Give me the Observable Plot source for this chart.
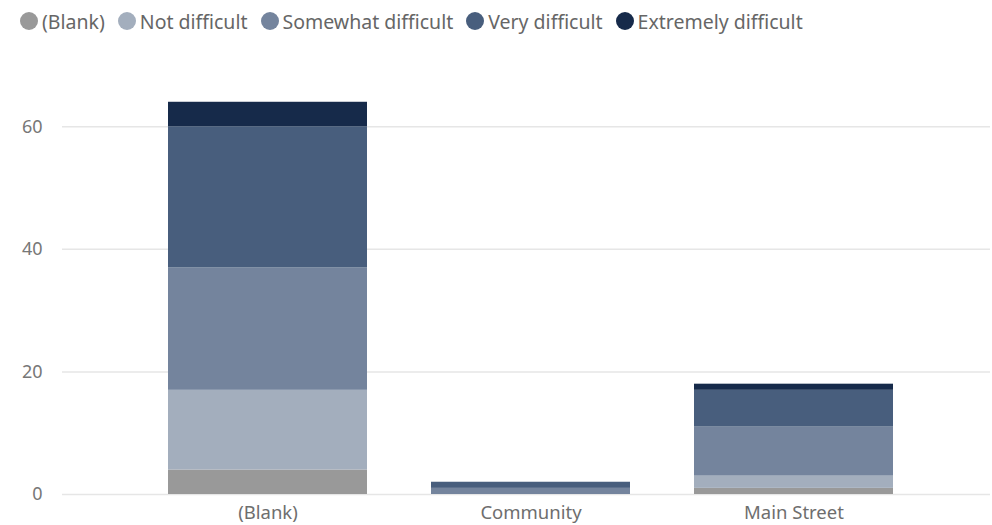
<!DOCTYPE html>
<html>
<head>
<meta charset="utf-8">
<script src="https://cdn.jsdelivr.net/npm/d3@7"></script>
<script src="https://cdn.jsdelivr.net/npm/@observablehq/plot@0.6"></script>
<style>
  body { margin: 0; background: #fff; font-family: "Noto Sans", "Open Sans", sans-serif; overflow: hidden; }
  #legend { height: 40px; display: flex; align-items: center; padding-left: 20px; padding-top: 2px; font-size: 19.5px; color: #666; box-sizing: border-box; }
  .item { display: flex; align-items: center; margin-right: 13px; }
  .sw { width: 18px; height: 18px; border-radius: 50%; margin-right: 4px; flex: none; }
  #chart svg { display: block; }
</style>
</head>
<body>
<div id="legend"></div>
<div id="chart"></div>
<script>
const categories = ["(Blank)", "Community", "Main Street"];
const levels = ["(Blank)", "Not difficult", "Somewhat difficult", "Very difficult", "Extremely difficult"];
const colors = ["#999999", "#a3aebd", "#74849d", "#485e7d", "#162a4a"];
// values per level, in category order
const blankLevel = [4, 0, 1];
const notDifficult = [13, 0, 2];
const somewhatDifficult = [20, 1, 8];
const veryDifficult = [23, 1, 6];
const extremelyDifficult = [4, 0, 1];
const yTicks = [0, 20, 40, 60];

const series = [blankLevel, notDifficult, somewhatDifficult, veryDifficult, extremelyDifficult];
const data = [];
levels.forEach((lv, i) => categories.forEach((c, j) => data.push({category: c, level: lv, value: series[i][j]})));

const legend = document.getElementById("legend");
levels.forEach((lv, i) => {
  const it = document.createElement("div");
  it.className = "item";
  it.innerHTML = `<span class="sw" style="background:${colors[i]}"></span><span>${lv}</span>`;
  legend.appendChild(it);
});

const chart = Plot.plot({
  width: 992,
  height: 485,
  marginLeft: 62,
  marginRight: 2,
  marginTop: 25,
  marginBottom: 31,
  style: { fontFamily: "'Noto Sans', 'Open Sans', sans-serif", fontSize: "18px", color: "#777" },
  x: { domain: categories, paddingInner: 0.2424, paddingOuter: 0.379, align: 0.525, label: null },
  y: { domain: [0, 70], label: null },
  color: { domain: levels, range: colors },
  marks: [
    Plot.gridY(yTicks, { stroke: "#e6e6e6", strokeOpacity: 1, strokeWidth: 1.5 }),
    Plot.barY(data, Plot.stackY({ x: "category", y: "value", fill: "level", order: levels })),
    Plot.axisX({ tickSize: 0, tickPadding: 11, fontSize: 18.5, fill: "#6e6e6e", label: null }),
    Plot.axisY({ ticks: yTicks, tickSize: 0, tickPadding: 20, fontSize: 18, fill: "#777", label: null })
  ]
});
document.getElementById("chart").appendChild(chart);
</script>
</body>
</html>
